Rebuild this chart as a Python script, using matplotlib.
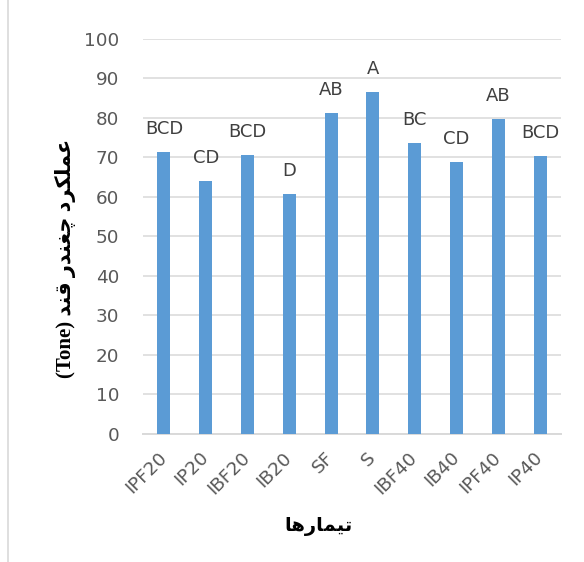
import matplotlib.pyplot as plt
from matplotlib.patches import Rectangle

treatments = ['IPF20', 'IP20', 'IBF20', 'IB20', 'SF', 'S',
              'IBF40', 'IB40', 'IPF40', 'IP40']
yields = [71.4, 64.1, 70.5, 60.8, 81.1, 86.6, 73.7, 68.7, 79.7, 70.3]
groups = ['BCD', 'CD', 'BCD', 'D', 'AB', 'A', 'BC', 'CD', 'AB', 'BCD']
y_ticks = list(range(0, 101, 10))

# Persian letters -> (isolated, final, initial, medial) presentation forms.
# Letters with only two forms do not join to the following letter.
FORMS = {
    'ع': ('\uFEC9', '\uFECA', '\uFECB', '\uFECC'),
    'م': ('\uFEE1', '\uFEE2', '\uFEE3', '\uFEE4'),
    'ل': ('\uFEDD', '\uFEDE', '\uFEDF', '\uFEE0'),
    'ک': ('\uFB8E', '\uFB8F', '\uFB90', '\uFB91'),
    'چ': ('\uFB7A', '\uFB7B', '\uFB7C', '\uFB7D'),
    'غ': ('\uFECD', '\uFECE', '\uFECF', '\uFED0'),
    'ن': ('\uFEE5', '\uFEE6', '\uFEE7', '\uFEE8'),
    'ق': ('\uFED5', '\uFED6', '\uFED7', '\uFED8'),
    'ت': ('\uFE95', '\uFE96', '\uFE97', '\uFE98'),
    'ی': ('\uFBFC', '\uFBFD', '\uFBFE', '\uFBFF'),
    'ه': ('\uFEE9', '\uFEEA', '\uFEEB', '\uFEEC'),
    'ر': ('\uFEAD', '\uFEAE'),
    'د': ('\uFEA9', '\uFEAA'),
    'ا': ('\uFE8D', '\uFE8E'),
}


def shape_word(word):
    out = []
    for i, ch in enumerate(word):
        forms = FORMS[ch]
        prev_joins = i > 0 and len(FORMS[word[i - 1]]) == 4
        next_joins = i < len(word) - 1 and len(forms) == 4
        if prev_joins and next_joins:
            out.append(forms[3])
        elif prev_joins:
            out.append(forms[1])
        elif next_joins:
            out.append(forms[2])
        else:
            out.append(forms[0])
    # visual order is right-to-left
    return ''.join(reversed(out))


def rtl(text):
    # words of an RTL line laid out left to right visually
    words = text.split(' ')
    shaped = [shape_word(w) if w[0] in FORMS else w for w in words]
    return ' '.join(reversed(shaped))


ylabel = rtl('عملکرد چغندر قند (Tone)')
xlabel = rtl('تیمارها')

fig = plt.figure(figsize=(5.84, 5.62), dpi=100)
ax = fig.add_axes([143 / 584, 1 - 434 / 562, 418 / 584, (434 - 38.7) / 562])

x = range(len(treatments))
bars = ax.bar(x, yields, width=0.31, color='#5b9bd5', zorder=3)
for rect, g in zip(bars, groups):
    ax.annotate(g, (rect.get_x() + rect.get_width() / 2, rect.get_height()),
                xytext=(0, 13), textcoords='offset points',
                ha='center', va='baseline', fontsize=13, color='#404040')

ax.set_xlim(-0.5, len(treatments) - 0.5)
ax.set_ylim(0, 100)
ax.set_yticks(y_ticks)
ax.set_yticklabels([str(v) for v in y_ticks], fontsize=13.2, color='#595959')
ax.set_xticks(list(x))
ax.set_xticklabels(treatments, rotation=45, ha='right', va='center',
                   rotation_mode='anchor', fontsize=13.2, color='#595959')
ax.tick_params(axis='both', length=0)
ax.tick_params(axis='y', pad=17)
ax.tick_params(axis='x', pad=15)

ax.grid(axis='y', color='#d9d9d9', linewidth=1.1, zorder=0)
for side in ['top', 'right', 'left']:
    ax.spines[side].set_visible(False)
ax.spines['bottom'].set_color('#d9d9d9')
ax.spines['bottom'].set_linewidth(1.4)

fig.text(65 / 584, 1 - 258 / 562, ylabel, rotation=90, ha='center',
         va='center', fontsize=15, fontweight='bold',
         family=['Liberation Serif', 'DejaVu Sans'])
fig.text(318 / 584, 1 - 527 / 562, xlabel, ha='center', va='center',
         fontsize=14, fontweight='bold', family=['DejaVu Sans'])

# chart area border
fig.patches.append(Rectangle((8 / 584, -0.2), 1.2, 1.2 + 1 - 10 / 562,
                             transform=fig.transFigure, fill=False,
                             edgecolor='#d9d9d9', linewidth=1.2))

fig.savefig('out.png', dpi=100)
